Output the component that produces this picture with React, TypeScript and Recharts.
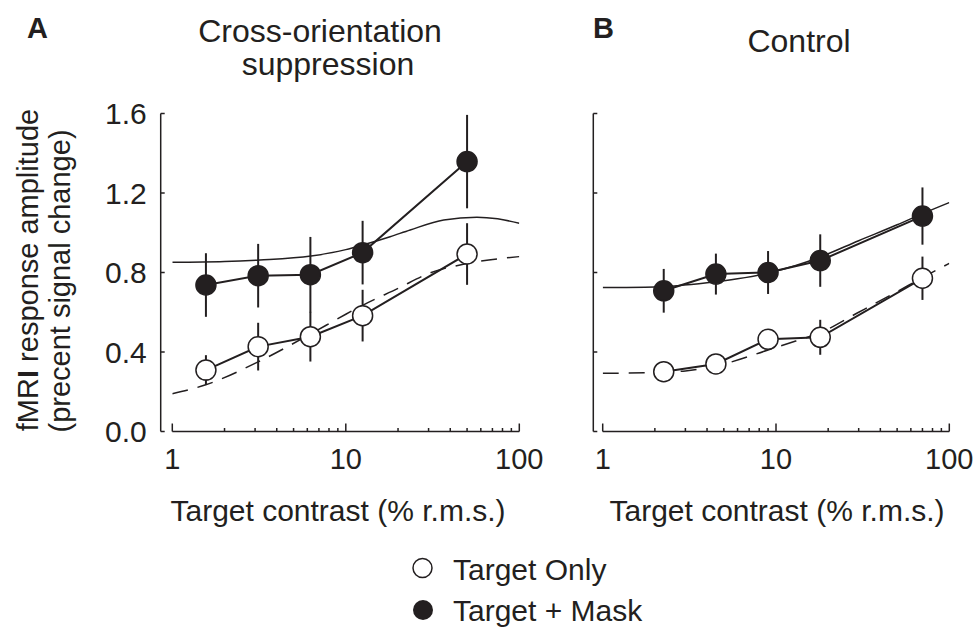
import React from 'react';
import { ComposedChart, Line, XAxis, YAxis, ErrorBar, ReferenceLine } from 'recharts';

const INK = '#231f20';
const FONT = '"Liberation Sans", Arial, Helvetica, sans-serif';

const xTicks = [1, 2, 3, 4, 5, 6, 7, 8, 9, 10, 20, 30, 40, 50, 60, 70, 80, 90, 100];
const xLabels = [1, 10, 100];
const yTicks = [0, 0.4, 0.8, 1.2, 1.6];
const yLabels = ['0.0', '0.4', '0.8', '1.2', '1.6'];

// A: cross-orientation suppression
const contrastA = [1.5625, 3.125, 6.25, 12.5, 50];
const maskA = [0.737, 0.784, 0.789, 0.9, 1.358];
const maskErrA = [0.16, 0.16, 0.19, 0.16, 0.235];
const onlyA = [0.309, 0.427, 0.477, 0.583, 0.893];
const onlyErrA = [0.075, 0.12, 0.125, 0.13, 0.155];
const fitMaskXA = [1, 2, 3.2, 6.3, 10, 12.5, 18, 23.5, 36.7, 57, 75, 100];
const fitMaskYA = [0.851, 0.855, 0.863, 0.883, 0.915, 0.938, 0.98, 1.014, 1.064, 1.078, 1.07, 1.048];
const fitOnlyXA = [1, 1.56, 3.12, 6.25, 10, 12.5, 20, 30, 50, 100];
const fitOnlyYA = [0.19, 0.235, 0.35, 0.49, 0.59, 0.635, 0.72, 0.795, 0.845, 0.88];

// B: control
const contrastB = [2.25, 4.5, 9, 18, 70];
const maskB = [0.708, 0.792, 0.8, 0.86, 1.084];
const maskErrB = [0.11, 0.103, 0.108, 0.132, 0.144];
const onlyB = [0.301, 0.34, 0.464, 0.474, 0.771];
const onlyErrB = [0.03, 0.04, 0.04, 0.088, 0.109];
const fitMaskXB = [1, 2, 4, 6, 9, 13, 18, 30, 50, 70, 100];
const fitMaskYB = [0.724, 0.727, 0.748, 0.768, 0.797, 0.835, 0.878, 0.96, 1.04, 1.096, 1.152];
const fitOnlyXB = [1, 2, 3, 5, 9, 13, 18, 30, 50, 70, 100];
const fitOnlyYB = [0.293, 0.296, 0.305, 0.34, 0.41, 0.455, 0.497, 0.6, 0.704, 0.774, 0.846];

const pts = (xs: number[], ys: number[], errs?: number[]) =>
  xs.map((x, i) => ({ x, y: ys[i], err: errs ? errs[i] : 0 }));

const XTick = (props: any) => {
  const { x, y, payload } = props;
  const major = xLabels.includes(payload.value);
  return (
    <g>
      <line x1={x} x2={x} y1={y} y2={y - (major ? 8 : 3.5)} stroke={INK} strokeWidth={1.5} />
      {major && (
        <text x={x} y={y + 37} textAnchor="middle" fontSize={29} fontFamily={FONT} fill={INK}>
          {payload.value}
        </text>
      )}
    </g>
  );
};

const makeYTick = (showLabels: boolean) => (props: any) => {
  const { x, y, payload } = props;
  const idx = yTicks.indexOf(payload.value);
  return (
    <g>
      <line x1={x} x2={x + 4} y1={y} y2={y} stroke={INK} strokeWidth={1.5} />
      {showLabels && (
        <text x={x - 14} y={y + 10.5} textAnchor="end" fontSize={30} fontFamily={FONT} fill={INK}>
          {yLabels[idx]}
        </text>
      )}
    </g>
  );
};

type PanelProps = {
  axisX: number;
  xStart: number;
  xEnd: number;
  showYLabels: boolean;
  contrast: number[];
  mask: number[];
  maskErr: number[];
  only: number[];
  onlyErr: number[];
  fitMaskX: number[];
  fitMaskY: number[];
  fitOnlyX: number[];
  fitOnlyY: number[];
};

// y axis reserves 1px, x axis reserves 1px
function Panel(p: PanelProps) {
  return (
    <div style={{ position: 'absolute', left: 0, top: 0 }}>
      <ComposedChart
        width={976}
        height={632}
        margin={{ top: 113.5, bottom: 199.5, left: p.axisX - 1, right: 976 - p.xEnd }}
      >
        <XAxis
          type="number"
          dataKey="x"
          scale="log"
          domain={[1, 100]}
          ticks={xTicks}
          interval={0}
          height={1}
          padding={{ left: p.xStart - p.axisX, right: 0 }}
          axisLine={false}
          tickLine={false}
          tickSize={0}
          tickMargin={0}
          tick={XTick}
          allowDataOverflow
        />
        <YAxis
          type="number"
          domain={[0, 1.6]}
          ticks={yTicks}
          width={1}
          axisLine={{ stroke: INK, strokeWidth: 1.5 }}
          tickLine={false}
          tickSize={0}
          tickMargin={0}
          tick={makeYTick(p.showYLabels)}
          interval={0}
        />
        <ReferenceLine
          segment={[{ x: 1, y: 0 }, { x: 100, y: 0 }]}
          stroke={INK}
          strokeWidth={1.5}
          ifOverflow="visible"
        />
        <Line
          data={pts(p.fitOnlyX, p.fitOnlyY)}
          dataKey="y"
          type="monotone"
          stroke={INK}
          strokeWidth={1.5}
          strokeDasharray="16 10"
          dot={false}
          activeDot={false}
          isAnimationActive={false}
        />
        <Line
          data={pts(p.fitMaskX, p.fitMaskY)}
          dataKey="y"
          type="monotone"
          stroke={INK}
          strokeWidth={1.5}
          dot={false}
          activeDot={false}
          isAnimationActive={false}
        />
        <Line
          data={pts(p.contrast, p.only, p.onlyErr)}
          dataKey="y"
          type="linear"
          stroke={INK}
          strokeWidth={2}
          dot={{ r: 10, fill: '#fff', stroke: INK, strokeWidth: 1.5 }}
          activeDot={false}
          isAnimationActive={false}
        >
          <ErrorBar dataKey="err" width={0} stroke={INK} strokeWidth={2} direction="y" />
        </Line>
        <Line
          data={pts(p.contrast, p.mask, p.maskErr)}
          dataKey="y"
          type="linear"
          stroke={INK}
          strokeWidth={2}
          dot={{ r: 10, fill: INK, stroke: INK, strokeWidth: 1.5 }}
          activeDot={false}
          isAnimationActive={false}
        >
          <ErrorBar dataKey="err" width={0} stroke={INK} strokeWidth={2} direction="y" />
        </Line>
      </ComposedChart>
    </div>
  );
}

export default function App() {
  return (
    <div
      style={{
        position: 'absolute',
        left: 0,
        top: 0,
        width: 976,
        height: 632,
        background: '#fff',
        overflow: 'hidden',
      }}
    >
      <Panel
        axisX={160.7}
        xStart={172.3}
        xEnd={519.3}
        showYLabels
        contrast={contrastA}
        mask={maskA}
        maskErr={maskErrA}
        only={onlyA}
        onlyErr={onlyErrA}
        fitMaskX={fitMaskXA}
        fitMaskY={fitMaskYA}
        fitOnlyX={fitOnlyXA}
        fitOnlyY={fitOnlyYA}
      />
      <Panel
        axisX={593.3}
        xStart={602.7}
        xEnd={949.3}
        showYLabels={false}
        contrast={contrastB}
        mask={maskB}
        maskErr={maskErrB}
        only={onlyB}
        onlyErr={onlyErrB}
        fitMaskX={fitMaskXB}
        fitMaskY={fitMaskYB}
        fitOnlyX={fitOnlyXB}
        fitOnlyY={fitOnlyYB}
      />
      <svg
        width={976}
        height={632}
        style={{ position: 'absolute', left: 0, top: 0, pointerEvents: 'none' }}
        fontFamily={FONT}
        fill={INK}
      >
        <text x={27} y={38} fontSize={29} fontWeight="bold">A</text>
        <text x={320} y={42} fontSize={32} textAnchor="middle">Cross-orientation</text>
        <text x={328} y={75} fontSize={32} textAnchor="middle">suppression</text>
        <text x={593} y={37.5} fontSize={29} fontWeight="bold">B</text>
        <text x={799} y={52} fontSize={32} textAnchor="middle">Control</text>

        <text transform="translate(38,270) rotate(-90)" fontSize={29} textAnchor="middle">
          fMR<tspan fontWeight="bold">I</tspan> response amplitude
        </text>
        <text transform="translate(70,281) rotate(-90)" fontSize={29} textAnchor="middle">
          (precent signal change)
        </text>

        <text x={338} y={521} fontSize={30} textAnchor="middle">Target contrast (% r.m.s.)</text>
        <text x={777} y={521} fontSize={30} textAnchor="middle">Target contrast (% r.m.s.)</text>

        <circle cx={422.5} cy={568} r={9.5} fill="#fff" stroke={INK} strokeWidth={1.5} />
        <text x={453} y={580} fontSize={30}>Target Only</text>
        <circle cx={423} cy={610} r={10} fill={INK} />
        <text x={453} y={621} fontSize={30}>Target + Mask</text>
      </svg>
    </div>
  );
}
